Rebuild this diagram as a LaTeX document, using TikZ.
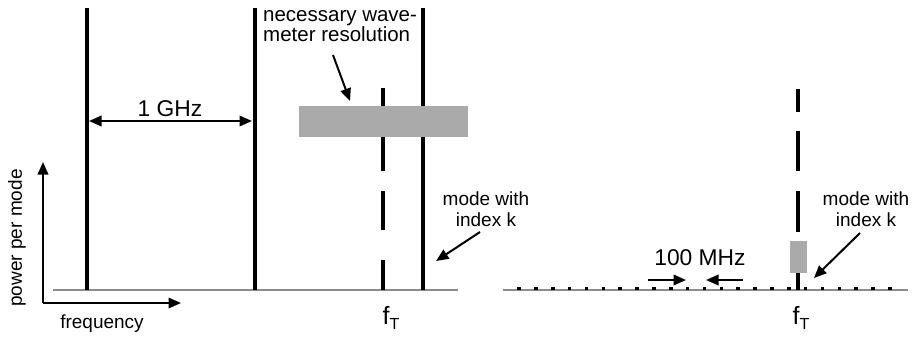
\documentclass[tikz,border=0pt]{standalone}
\usepackage{fontspec}
\setmainfont{Liberation Sans}
\usetikzlibrary{arrows.meta}
\definecolor{boxgray}{HTML}{AAAAAA}
\definecolor{basegray}{HTML}{8C8C8C}
\begin{document}
\begin{tikzpicture}[x=1pt,y=-1pt,
  modeline/.style={line width=3.6pt},
  baseline/.style={line width=1.5pt, draw=basegray},
  arr/.style={line width=2pt,-{Triangle[length=12.5pt,width=10.5pt]}},
  darr/.style={line width=2pt,{Triangle[length=12.5pt,width=10.5pt]}-{Triangle[length=12.5pt,width=10.5pt]}},
  lbl/.style={inner sep=0pt, font=\fontsize{19}{21}\selectfont, align=center},
  biglbl/.style={inner sep=0pt, font=\fontsize{22.8}{24}\selectfont},
  resbox/.style={fill=boxgray, draw=none},
  tick/.style={fill=black, draw=none}
]
\useasboundingbox (0,0) rectangle (914,337);

% ---------- left panel ----------
\draw[baseline] (53,290) -- (458,290);
\foreach \x/\n in {87/a,255/b,423/c}{
  \coordinate (top\n) at (\x,8);
  \coordinate (bot\n) at (\x,290);
  \draw[modeline] (top\n) -- (bot\n);
}
% dashed target line
\foreach \s/\e in {88/112,131/171,191/230,260/290}{
  \draw[modeline] (383,\s) -- (383,\e);
}
\node[resbox, minimum width=169pt, minimum height=31pt, inner sep=0pt] (res) at (383.5,121.5) {};

% 1 GHz
\coordinate (g1l) at (89,121);
\coordinate (g1r) at (252,121);
\draw[darr] (g1l) -- (g1r);
\node[biglbl] (ghz) at (170,108.5) {1 GHz};

% wavemeter label
\node[inner sep=0pt, font=\fontsize{20.5}{17.5}\selectfont, align=left, anchor=north west] (wm) at (263,10) {necessary wave-\\meter resolution};
\coordinate (wmt) at (333,55);
\draw[arr] (wmt) -- (350,101);

% mode label left
\node[lbl] (mk1) at (486,209) {mode with\\index k};
\coordinate (mk1t) at (480,232);
\draw[arr] (mk1t) -- (436,261);

% axes
\coordinate (org) at (43,303);
\coordinate (ytip) at (43,162);
\coordinate (xtip) at (181,303);
\draw[arr] (org) -- (ytip);
\draw[arr] (org) -- (xtip);
\node[lbl] (freq) at (102,324) {frequency};
\node[lbl, rotate=90] (ppm) at (17,238) {power per mode};

% f_T left
\node[inner sep=0pt] (ft1) at (391,318) {\fontsize{25}{25}\selectfont f\raisebox{-5pt}{\fontsize{16}{16}\selectfont T}};

% ---------- right panel ----------
\draw[baseline] (503,290) -- (908,290);
\foreach \i in {0,...,22}{
  \fill[tick] ({519+\i*16.86-1.8},286.5) rectangle ({519+\i*16.86+1.8},290);
}
\foreach \s/\e in {89/112,131/171,191/232,272/290}{
  \draw[modeline] (798,\s) -- (798,\e);
}
\node[resbox, minimum width=17pt, minimum height=32pt, inner sep=0pt] (res2) at (798.5,257) {};

% 100 MHz
\node[biglbl] (mhz) at (700,258) {100 MHz};
\coordinate (ml) at (648,280);
\coordinate (mr) at (743,280);
\draw[arr] (ml) -- (686,280);
\draw[arr] (mr) -- (706,280);

% mode label right
\node[lbl] (mk2) at (866,209) {mode with\\index k};
\coordinate (mk2t) at (860,233);
\draw[arr] (mk2t) -- (814,278);

% f_T right
\node[inner sep=0pt] (ft2) at (801,318) {\fontsize{25}{25}\selectfont f\raisebox{-5pt}{\fontsize{16}{16}\selectfont T}};
\end{tikzpicture}
\end{document}
